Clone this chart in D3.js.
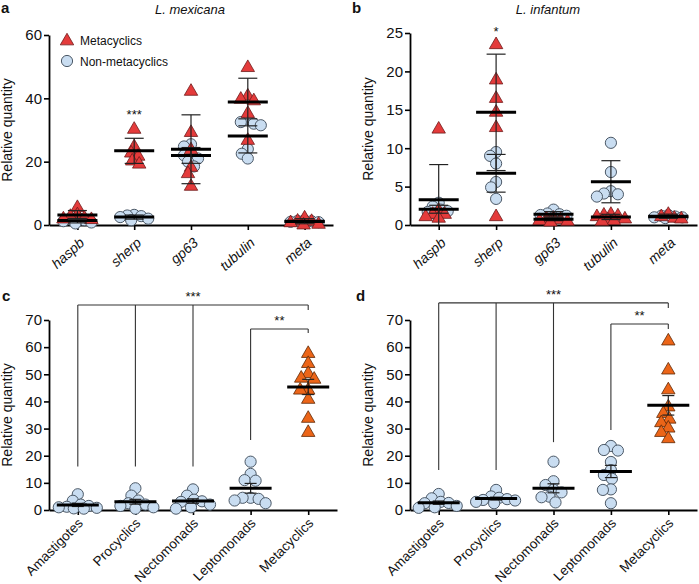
<!DOCTYPE html>
<html>
<head>
<meta charset="utf-8">
<script src="https://cdn.jsdelivr.net/npm/d3@7"></script>
<style>
  body { margin: 0; background: #fff; }
  text { font-family: "Liberation Sans", Arial, Helvetica, sans-serif; fill: #111; }
</style>
</head>
<body>
<svg id="chart" width="699" height="584"></svg>
<script>
// ---------------- DATA ----------------
const genes = ["haspb", "sherp", "gp63", "tubulin", "meta"];
const seriesNames = ["Metacyclics", "Non-metacyclics"];

// Panel a: L. mexicana
const metaA = [
  [5.8, 3.5, 2.0, 3.0, 2.5, 2.2],
  [30.5, 23.0, 22.0, 20.5, 19.5, 25.0],
  [42.5, 29.5, 24.0, 18.5, 16.5, 12.5],
  [50.0, 41.0, 39.5, 35.5, 27.0, 40.0],
  [1.5, 0.5, 0.3, 2.5, 1.0, 1.4]
];
const nonMetaA = [
  [2.5, 1.2, 0.8, 1.5, 0.5, 1.8],
  [3.0, 2.5, 2.0, 1.5, 2.8, 3.2],
  [25.5, 24.8, 22.0, 21.0, 20.0, 18.5, 22.0],
  [33.5, 32.5, 31.5, 32.0, 24.0, 21.0, 22.5],
  [1.2, 0.9, 1.5, 1.0, 0.8, 1.3]
];
const ticksA = [0, 20, 40, 60];
const sigA = [{ cat: "sherp", label: "***", value: 33.5 }];

// Panel b: L. infantum
const metaB = [
  [12.6, 2.0, 1.5, 1.2, 1.0, 1.5],
  [23.6, 19.0, 16.6, 14.8, 12.8, 1.2],
  [0.8, 0.5, 0.9, 0.6, 1.0, 0.7],
  [1.5, 1.3, 0.9, 0.7, 0.6, 1.2, 0.8, 1.4],
  [1.5, 1.0, 0.9, 1.2]
];
const nonMetaB = [
  [2.9, 2.4, 1.8, 1.7, 1.5, 2.0],
  [9.5, 9.0, 8.0, 5.6, 4.9, 3.4],
  [2.0, 1.5, 1.2, 1.0, 1.4, 1.3],
  [10.7, 6.9, 4.4, 4.1, 4.0, 3.7],
  [1.3, 1.0, 1.2, 0.9, 1.1, 1.0]
];
const ticksB = [0, 5, 10, 15, 20, 25];
const sigB = [{ cat: "sherp", label: "*", value: 24.6 }];

// Panels c and d: developmental stages
const stages = ["Amastigotes", "Procyclics", "Nectomonads", "Leptomonads", "Metacyclics"];
const valuesC = [
  [5.8, 3.4, 2.0, 1.2, 0.8, 0.6, 1.0, 0.5, 1.5],
  [8.0, 5.3, 3.5, 2.0, 1.0, 0.5, 1.5, 2.5],
  [7.6, 5.3, 3.8, 3.0, 2.0, 1.0, 0.5, 3.2],
  [17.8, 13.3, 11.0, 10.8, 4.5, 4.1, 3.5, 2.5, 4.5],
  [58.0, 54.3, 50.6, 48.9, 48.5, 44.5, 44.5, 41.1, 34.1, 28.9]
];
const valuesD = [
  [5.9, 4.3, 3.0, 2.5, 1.5, 1.0, 0.8, 2.6],
  [7.4, 5.0, 4.5, 4.0, 3.5, 3.0, 2.5, 3.7],
  [17.8, 10.6, 9.2, 7.5, 4.9, 4.7, 2.8, 6.5],
  [23.6, 22.1, 21.9, 17.7, 14.7, 12.9, 11.5, 7.6, 7.4, 2.5],
  [62.6, 51.9, 44.6, 38.3, 35.9, 33.8, 32.5, 30.5, 28.9, 26.6]
];
const ticksCD = [0, 10, 20, 30, 40, 50, 60, 70];

const bracketsC = [
  { label: "***", level: 75.5, from: "Amastigotes", to: "Metacyclics",
    drops: [["Amastigotes", 16], ["Procyclics", 16], ["Nectomonads", 16], ["Metacyclics", 73.7]] },
  { label: "**", level: 66.7, from: "Leptomonads", to: "Metacyclics",
    drops: [["Leptomonads", 25.8], ["Metacyclics", 65.2]] }
];
const bracketsD = [
  { label: "***", level: 76.3, from: "Amastigotes", to: "Metacyclics",
    drops: [["Amastigotes", 14.7], ["Procyclics", 14.7], ["Nectomonads", 25], ["Metacyclics", 74.4]] },
  { label: "**", level: 68.5, from: "Leptomonads", to: "Metacyclics",
    drops: [["Leptomonads", 29.5], ["Metacyclics", 66.7]] }
];

// ---------------- STYLE ----------------
const RED = "#e43b3b", RED_STROKE = "#6e1a1a";
const ORANGE = "#ec6518", ORANGE_STROKE = "#5e2a08";
const BLUE = "#c9ddf1", BLUE_STROKE = "#4b5866";

const svg = d3.select("#chart");

function sd(a) { return d3.deviation(a) || 0; }
function sem(a) { return sd(a) / Math.sqrt(a.length); }

// simple deterministic beeswarm with a maximum spread
function swarm(vals, y, cx, diam, maxOff) {
  const pts = vals.map(v => ({ v, y: y(v) })).sort((a, b) => a.y - b.y);
  const placed = [];
  for (const p of pts) {
    let bx = null, bestX = cx, bestD = -1;
    for (let k = 0; k <= 2 * maxOff; k++) {
      const off = (k % 2 === 0 ? 1 : -1) * Math.ceil(k / 2);
      const x = cx + off;
      const dmin = placed.length ? d3.min(placed, q => Math.hypot(q.x - x, q.y - p.y)) : Infinity;
      if (dmin >= diam) { bx = x; break; }
      if (dmin > bestD) { bestD = dmin; bestX = x; }
    }
    p.x = bx === null ? bestX : bx;
    placed.push(p);
  }
  return pts;
}

const triSym = d3.symbol().type(d3.symbolTriangle).size(78);

function drawCircles(g, pts) {
  g.selectAll(null).data(pts).join("circle")
    .attr("cx", d => d.x).attr("cy", d => d.y).attr("r", 5.6)
    .attr("fill", BLUE).attr("stroke", BLUE_STROKE).attr("stroke-width", 1);
}
function drawTris(g, pts, fill, stroke) {
  g.selectAll(null).data(pts).join("path")
    .attr("d", triSym)
    .attr("transform", d => `translate(${d.x},${d.y + 1})`)
    .attr("fill", fill).attr("stroke", stroke).attr("stroke-width", 0.8);
}
function drawStats(g, cx, vals, y, errFn, meanW, capW) {
  const m = d3.mean(vals), e = errFn(vals);
  g.append("line").attr("x1", cx).attr("x2", cx).attr("y1", y(m + e)).attr("y2", y(Math.max(0, m - e)))
    .attr("stroke", "#222").attr("stroke-width", 1.2);
  [m + e, m - e].forEach(v => {
    if (v < 0) return;
    g.append("line").attr("x1", cx - capW / 2).attr("x2", cx + capW / 2).attr("y1", y(v)).attr("y2", y(v))
      .attr("stroke", "#222").attr("stroke-width", 1.2);
  });
  g.append("line").attr("x1", cx - meanW / 2).attr("x2", cx + meanW / 2).attr("y1", y(m)).attr("y2", y(m))
    .attr("stroke", "#000").attr("stroke-width", 3);
}

function drawAxes(cfg, x, y, rot, italic) {
  const g = svg.append("g");
  const ya = g.append("g").attr("transform", `translate(${cfg.x0},0)`)
    .call(d3.axisLeft(y).tickValues(cfg.ticks).tickSize(5).tickSizeOuter(0).tickPadding(2));
  const xa = g.append("g").attr("transform", `translate(0,${cfg.yBot})`)
    .call(d3.axisBottom(x).tickSize(5).tickSizeOuter(0).tickFormat(""));
  [ya, xa].forEach(a => {
    a.select(".domain").attr("stroke", "#000").attr("stroke-width", 1.8);
    a.selectAll(".tick line").attr("stroke", "#000").attr("stroke-width", 1.6);
  });
  ya.selectAll(".tick text").attr("font-size", 15)
    .style("font-family", '"Liberation Sans", Arial, sans-serif').attr("fill", "#111");
  // rotated category labels
  g.selectAll(null).data(x.domain()).join("text")
    .attr("transform", d => `translate(${x(d) + cfg.lblDx},${cfg.yBot + cfg.lblDy}) rotate(${rot})`)
    .attr("text-anchor", "end").attr("font-size", cfg.lblSize)
    .attr("font-style", italic ? "italic" : "normal")
    .text(d => d);
  // y label
  g.append("text")
    .attr("transform", `translate(${cfg.yLabX},${(cfg.yTop + cfg.yBot) / 2}) rotate(-90)`)
    .attr("text-anchor", "middle").attr("font-size", 14).text("Relative quantity");
  // panel letter
  svg.append("text").attr("x", cfg.letterX).attr("y", cfg.letterY)
    .attr("font-size", 15).attr("font-weight", "bold").text(cfg.letter);
}

// ---------------- PANELS a & b ----------------
function genePanel(cfg, metaVals, nonVals, sig) {
  const x = d3.scalePoint().domain(genes).range([cfg.x0, cfg.x1]).padding(0.5);
  const y = d3.scaleLinear().domain([0, cfg.ticks[cfg.ticks.length - 1]]).range([cfg.yBot, cfg.yTop]);
  drawAxes(cfg, x, y, -42, true);
  svg.append("text").attr("x", cfg.titleX).attr("y", 14).attr("text-anchor", "middle")
    .attr("font-size", 13).attr("font-style", "italic").text(cfg.title);
  const g = svg.append("g");
  genes.forEach((gname, i) => {
    drawCircles(g, swarm(nonVals[i], y, x(gname), 7, 15));
  });
  genes.forEach((gname, i) => {
    drawTris(g, swarm(metaVals[i], y, x(gname), 7, 15), RED, RED_STROKE);
  });
  genes.forEach((gname, i) => {
    drawStats(g, x(gname), nonVals[i], y, sd, 40, 19);
    drawStats(g, x(gname), metaVals[i], y, sd, 40, 19);
  });
  sig.forEach(s => {
    svg.append("text").attr("x", x(s.cat)).attr("y", y(s.value)).attr("text-anchor", "middle")
      .attr("font-size", 13).text(s.label);
  });
}

const panelA = { x0: 49, x1: 333, yTop: 35, yBot: 225, ticks: ticksA, lblDx: 8, lblDy: 19, lblSize: 14,
  yLabX: 12, letter: "a", letterX: 1, letterY: 13, title: "L. mexicana", titleX: 190 };
const panelB = { x0: 410, x1: 697, yTop: 33, yBot: 225, ticks: ticksB, lblDx: 8, lblDy: 19, lblSize: 14,
  yLabX: 373, letter: "b", letterX: 352, letterY: 13, title: "L. infantum", titleX: 548 };

genePanel(panelA, metaA, nonMetaA, sigA);
genePanel(panelB, metaB, nonMetaB, sigB);

// legend (panel a)
const leg = svg.append("g");
seriesNames.forEach((name, i) => {
  const ly = 40 + i * 21;
  if (i === 0) {
    leg.append("path").attr("d", triSym).attr("transform", `translate(67,${ly + 1})`)
      .attr("fill", RED).attr("stroke", RED_STROKE).attr("stroke-width", 0.8);
  } else {
    leg.append("circle").attr("cx", 67).attr("cy", ly).attr("r", 5.6)
      .attr("fill", BLUE).attr("stroke", BLUE_STROKE).attr("stroke-width", 1);
  }
  leg.append("text").attr("x", 80).attr("y", ly + 4.5).attr("font-size", 12).text(name);
});

// ---------------- PANELS c & d ----------------
function stagePanel(cfg, vals, brackets) {
  const x = d3.scalePoint().domain(stages).range([cfg.x0, cfg.x1]).padding(0.5);
  const y = d3.scaleLinear().domain([0, 70]).range([cfg.yBot, cfg.yTop]);
  drawAxes(cfg, x, y, -45, false);
  const g = svg.append("g");
  stages.forEach((s, i) => {
    if (i < stages.length - 1) drawCircles(g, swarm(vals[i], y, x(s), 8, 20));
    else drawTris(g, swarm(vals[i], y, x(s), 8, 18), ORANGE, ORANGE_STROKE);
  });
  stages.forEach((s, i) => drawStats(g, x(s), vals[i], y, sem, 42, 12));
  const bg = svg.append("g").attr("fill", "none").attr("stroke", "#333").attr("stroke-width", 1.1);
  brackets.forEach(b => {
    bg.append("line").attr("x1", x(b.from)).attr("x2", x(b.to)).attr("y1", y(b.level)).attr("y2", y(b.level));
    b.drops.forEach(([c, v]) => {
      bg.append("line").attr("x1", x(c)).attr("x2", x(c)).attr("y1", y(b.level)).attr("y2", y(v));
    });
    svg.append("text").attr("x", (x(b.from) + x(b.to)) / 2).attr("y", y(b.level) - 4)
      .attr("text-anchor", "middle").attr("font-size", 13).text(b.label);
  });
}

const panelC = { x0: 49, x1: 337, yTop: 320, yBot: 510, ticks: ticksCD, lblDx: 6, lblDy: 14, lblSize: 13.5,
  yLabX: 12, letter: "c", letterX: 2, letterY: 301 };
const panelD = { x0: 410, x1: 697, yTop: 320, yBot: 510, ticks: ticksCD, lblDx: 6, lblDy: 14, lblSize: 13.5,
  yLabX: 373, letter: "d", letterX: 356, letterY: 301 };

stagePanel(panelC, valuesC, bracketsC);
stagePanel(panelD, valuesD, bracketsD);
</script>
</body>
</html>
